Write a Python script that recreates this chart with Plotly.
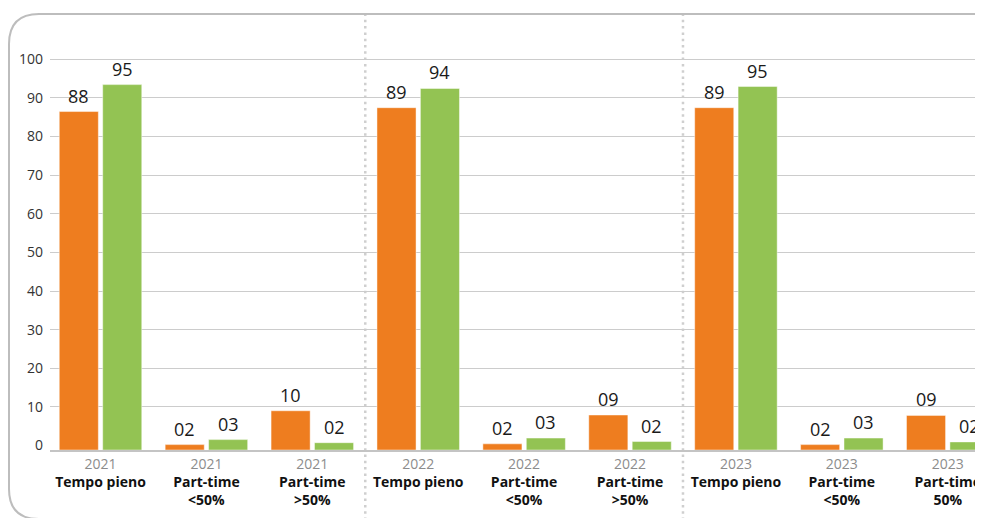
import plotly.graph_objects as go

# ---- data ----
years = ["2021", "2021", "2021", "2022", "2022", "2022", "2023", "2023", "2023"]
type_line1 = ["Tempo pieno", "Part-time", "Part-time",
              "Tempo pieno", "Part-time", "Part-time",
              "Tempo pieno", "Part-time", "Part-time"]
type_line2 = ["", "&lt;50%", "&gt;50%",
              "", "&lt;50%", "&gt;50%",
              "", "&lt;50%", "50%"]
orange_vals = [88, 1.4, 10.2, 89, 1.6, 9.1, 89, 1.4, 9.0]
green_vals = [95, 2.7, 1.9, 94, 3.1, 2.2, 94.5, 3.1, 2.1]
orange_labels = ["88", "02", "10", "89", "02", "09", "89", "02", "09"]
green_labels = ["95", "03", "02", "94", "03", "02", "95", "03", "02"]
y_ticks = [0, 10, 20, 30, 40, 50, 60, 70, 80, 90, 100]

ORANGE = "#EE7D1F"
GREEN = "#93C353"
FONT = "Open Sans"


def cat_label(y, a, b):
    s = f"<span style='color:#8c8c8c'>{y}</span><br><b>{a}</b>"
    if b:
        s += f"<br><b>{b}</b>"
    return s


cats = [cat_label(y, a, b) for y, a, b in zip(years, type_line1, type_line2)]

fig = go.Figure()
# invisible helper trace so that the gridline / tick axis is drawn
fig.add_trace(go.Scatter(x=cats, y=[None] * len(cats), mode="markers", yaxis="y",
                         showlegend=False, hoverinfo="skip", marker=dict(opacity=0)))
fig.add_trace(go.Bar(x=cats, y=orange_vals,
                     marker=dict(color=ORANGE, line=dict(color="rgba(255,255,255,0.45)", width=1)),
                     yaxis="y2", hoverinfo="skip", name="A"))
fig.add_trace(go.Bar(x=cats, y=green_vals,
                     marker=dict(color=GREEN, line=dict(color="rgba(255,255,255,0.45)", width=1)),
                     yaxis="y2", hoverinfo="skip", name="B"))

# geometry (the page adds an 8px body margin, so figure coords = screen - 8)
OFF = 8
W_FIG, H_FIG = 983 - OFF, 518 - OFF
L, T = 50 - OFF, 55 - OFF
PW, PH = 933, 395


def px(x):
    return (x - OFF - L) / PW


def py(y):
    return (T + PH - (y - OFF)) / PH


annotations = []
for c, v, t in zip(cats, orange_vals, orange_labels):
    annotations.append(dict(x=c, y=v, yref="y2", text=t, showarrow=False, xshift=-21.7,
                            yanchor="middle", yshift=16, font=dict(size=18, color="#1a1a1a", family=FONT)))
for c, v, t in zip(cats, green_vals, green_labels):
    annotations.append(dict(x=c, y=v, yref="y2", text=t, showarrow=False, xshift=21.7,
                            yanchor="middle", yshift=16, font=dict(size=18, color="#1a1a1a", family=FONT)))

r = 30
x0, y0, y1, xr = 9, 14, 519, 1000
frame_path = (f"M {px(xr)},{py(y0)} L {px(x0 + r)},{py(y0)} "
              f"Q {px(x0)},{py(y0)} {px(x0)},{py(y0 + r)} "
              f"L {px(x0)},{py(y1 - r)} "
              f"Q {px(x0)},{py(y1)} {px(x0 + r)},{py(y1)} "
              f"L {px(xr)},{py(y1)}")

shapes = [
    dict(type="path", path=frame_path, xref="paper", yref="paper",
         line=dict(color="#bdbdbd", width=2), layer="below"),
]
for xs in [2.5, 5.5]:
    shapes.append(dict(type="line", xref="x", yref="paper", x0=xs, x1=xs,
                       y0=py(520), y1=py(15),
                       line=dict(color="#cfcfcf", width=2.5, dash="2.5px,3.8px"), layer="below"))

fig.update_layout(
    width=W_FIG, height=H_FIG, autosize=False,
    margin=dict(l=L, r=0, t=T, b=H_FIG - T - PH, pad=0),
    paper_bgcolor="white", plot_bgcolor="white",
    showlegend=False,
    barmode="group", bargap=0.18, bargroupgap=0.1,
    font=dict(family=FONT, color="#222222"),
    xaxis=dict(type="category", range=[-0.477, 8.333], showline=True, linecolor="#c4c4c4", linewidth=1.5,
               ticks="", showgrid=False, zeroline=False, automargin=False,
               tickfont=dict(size=14, color="#111111", family=FONT)),
    yaxis=dict(range=[-1.165, 101.11], tickvals=y_ticks, showgrid=False, zeroline=False,
               ticks="", showline=False, ticklabelstandoff=6, automargin=False,
               minor=dict(tickvals=y_ticks[1:], showgrid=True, gridcolor="#cccccc", gridwidth=1, ticks=""),
               tickfont=dict(size=14, color="#333333", family=FONT)),
    yaxis2=dict(overlaying="y", range=[0, 102.7], visible=False, showgrid=False, zeroline=False),
    annotations=annotations,
    shapes=shapes,
)

fig.write_html("out.html")
